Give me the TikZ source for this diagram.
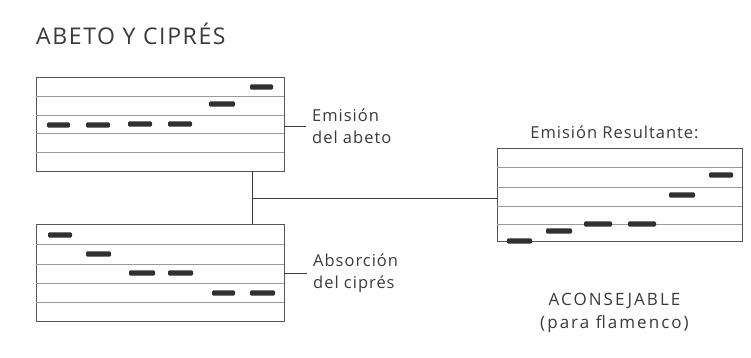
\documentclass[tikz,border=0pt]{standalone}
\usepackage{fontspec}
\setmainfont{Open Sans}
\newfontfamily\wide[LetterSpace=6]{Open Sans}
\newfontfamily\wider[LetterSpace=12]{Open Sans}
\newfontfamily\titlefont[LetterSpace=7]{Open Sans}
\definecolor{ink}{HTML}{3A3A3A}
\definecolor{frame}{HTML}{555555}
\definecolor{rule}{HTML}{9A9A9A}
\definecolor{barc}{HTML}{303030}
\tikzset{
  chart/.style={draw=frame, line width=0.9pt, rectangle, inner sep=0pt},
  staff/.style={draw=rule, line width=0.6pt},
  bar/.style={fill=barc, rounded corners=1.2pt},
  conn/.style={draw=ink, line width=0.8pt},
  lbl/.style={text=ink, font=\wide\fontsize{16.5}{22}\selectfont, align=left, inner sep=0pt},
}
\newcommand{\barat}[3]{\fill[bar] (#1,#3-2.6) rectangle (#2,#3+2.6);}
\begin{document}
\begin{tikzpicture}[x=1pt,y=-1pt]
\useasboundingbox (0,0) rectangle (751,358);
% title
\node[anchor=west, text=ink, font=\titlefont\fontsize{23}{26}\selectfont, inner sep=0pt] (title) at (36,34) {ABETO Y CIPRÉS};
% box 1: emision del abeto
\node[chart, minimum width=248pt, minimum height=94pt] (b1) at (160,124) {};
\foreach \y in {96,115,133,152} \draw[staff] (36,\y) -- (284,\y);
\barat{47}{70}{125}
\barat{86}{110}{125}
\barat{128}{152}{124}
\barat{168}{192}{124}
\barat{209}{235}{104}
\barat{250}{273}{87}
% box 2: absorcion del cipres
\node[chart, minimum width=248pt, minimum height=97pt] (b2) at (160,272.5) {};
\foreach \y in {244,264,283,302} \draw[staff] (36,\y) -- (284,\y);
\barat{48}{72}{235}
\barat{86}{111}{254}
\barat{129}{155}{273}
\barat{168}{193}{273}
\barat{212}{235}{293}
\barat{250}{275}{293}
% box 3: resultante
\node[chart, minimum width=245pt, minimum height=93pt] (b3) at (619.5,194.5) {};
\foreach \y in {167,187,206,224} \draw[staff] (497,\y) -- (742,\y);
\barat{507}{532}{241}
\barat{546}{572}{231}
\barat{584}{612}{224}
\barat{628}{656}{224}
\barat{669}{695}{195}
\barat{709}{733}{175}
% labels
\node[lbl, anchor=west] (l1) at (312,126) {Emisión\\del abeto};
\node[lbl, anchor=west] (l2) at (313,273) {Absorción\\del ciprés};
\node[lbl, anchor=base] (l3) at (614.5,139) {Emisión Resultante:};
\node[lbl, font=\wider\fontsize{17}{23}\selectfont, align=center, anchor=north] (l4) at (614.5,293) {ACONSEJABLE\\(para flamenco)};
% connectors
\coordinate (j) at (252,198);
\draw[conn] (b1.south -| j) -- (b2.north -| j);
\draw[conn] (j) -- (j -| b3.west);
\draw[conn] (l1.west -| b1.east) -- ([xshift=-6pt]l1.west);
\draw[conn] (l2.west -| b2.east) -- ([xshift=-6pt]l2.west);
\end{tikzpicture}
\end{document}
